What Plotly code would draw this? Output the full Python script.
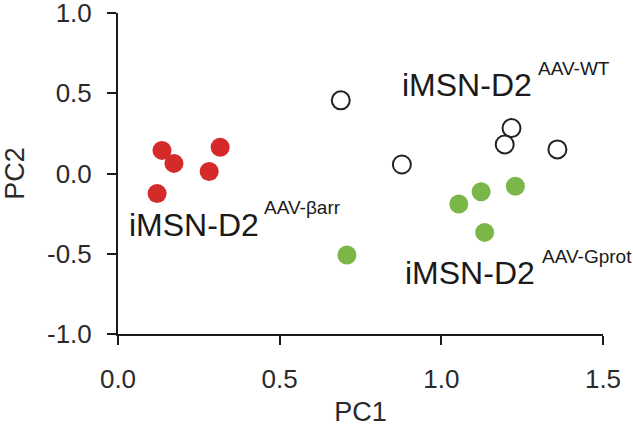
import plotly.graph_objects as go

# PC scores
barr_pc1 = [0.136, 0.173, 0.316, 0.282, 0.121]
barr_pc2 = [0.144, 0.063, 0.163, 0.013, -0.125]

wt_pc1 = [0.689, 0.878, 1.217, 1.196, 1.359]
wt_pc2 = [0.456, 0.056, 0.283, 0.181, 0.150]

gprot_pc1 = [1.054, 1.123, 1.229, 0.708, 1.134]
gprot_pc2 = [-0.190, -0.114, -0.079, -0.508, -0.367]

x_ticks = [0.0, 0.5, 1.0, 1.5]
x_ticktext = ["0.0", "0.5", "1.0", "1.5"]
y_ticks = [-1.0, -0.5, 0.0, 0.5, 1.0]
y_ticktext = ["-1.0", "-0.5", "0.0", "0.5", "1.0"]

FONT = "Liberation Sans, Arial, sans-serif"

fig = go.Figure()
fig.add_trace(go.Scatter(x=barr_pc1, y=barr_pc2, mode="markers", cliponaxis=False,
                         marker=dict(size=19, color="#d42a2a", line=dict(width=0))))
fig.add_trace(go.Scatter(x=wt_pc1, y=wt_pc2, mode="markers", cliponaxis=False,
                         marker=dict(size=18, color="white", line=dict(width=2, color="#222222"))))
fig.add_trace(go.Scatter(x=gprot_pc1, y=gprot_pc2, mode="markers", cliponaxis=False,
                         marker=dict(size=19, color="#7ab648", line=dict(width=0))))

labels = [
    # main text (x, y), superscript (x, y), superscript text
    ((0.028, -0.319), (0.445, -0.209), "AAV-βarr"),
    ((0.872, 0.553), (1.292, 0.653), "AAV-WT"),
    ((0.882, -0.619), (1.306, -0.516), "AAV-Gprot"),
]
for (mx, my), (sx, sy), sup in labels:
    fig.add_annotation(x=mx, y=my, text="iMSN-D2", showarrow=False,
                       xanchor="left", yanchor="middle",
                       font=dict(family=FONT, size=32, color="#1a1a1a"))
    fig.add_annotation(x=sx, y=sy, text=sup, showarrow=False,
                       xanchor="left", yanchor="middle",
                       font=dict(family=FONT, size=19, color="#1a1a1a"))

axis_common = dict(showgrid=False, zeroline=False, showline=True, automargin=False,
                   linecolor="#1a1a1a", linewidth=2, ticks="outside",
                   ticklen=9, tickwidth=2, tickcolor="#1a1a1a",
                   ticklabeloverflow="allow",
                   tickfont=dict(family=FONT, size=26, color="#2a2a2a"))

fig.update_xaxes(range=[0, 1.5], tickvals=x_ticks, ticktext=x_ticktext, ticklabelstandoff=12,
                 title=dict(text="PC1", font=dict(family=FONT, size=27, color="#2a2a2a"), standoff=22),
                 **axis_common)
fig.update_yaxes(range=[-1, 1], tickvals=y_ticks, ticktext=y_ticktext, ticklabelstandoff=10,
                 title=dict(text="PC2", font=dict(family=FONT, size=27, color="#2a2a2a"), standoff=16),
                 **axis_common)

fig.update_layout(width=633, height=427, showlegend=False,
                  plot_bgcolor="white", paper_bgcolor="white",
                  margin=dict(l=118, r=30, t=13, b=93))

# the page template has the browser's default 8px body margin; drop it
fig.write_html("out.html", config={"displayModeBar": False},
               post_script="document.body.style.margin='0';")
